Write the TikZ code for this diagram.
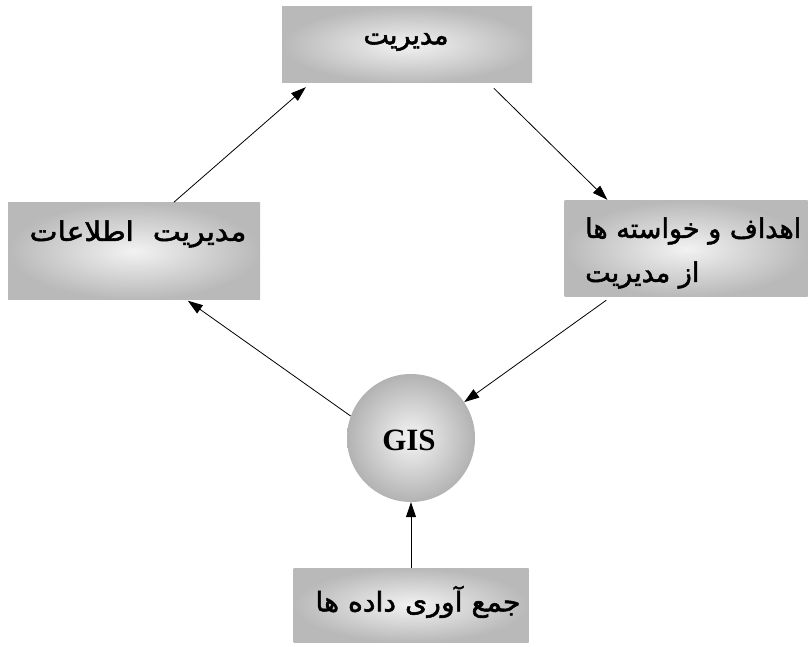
\documentclass[tikz,border=0pt]{standalone}
\usepackage{fontspec}
\usetikzlibrary{arrows.meta,calc}
\TeXXeTstate=1
\newfontfamily\arabicfont[Script=Arabic,FakeBold=2]{DejaVu Sans}
\newfontfamily\gisfont{Liberation Serif}
\tikzset{
  textured/.style={inner color=gray!10, outer color=gray!55},
  boxnode/.style={rectangle, textured, inner sep=0pt},
  fa/.style={font=\arabicfont\fontsize{27}{30}\selectfont, inner sep=0pt},
  link/.style={draw=black, line width=0.8pt, -{Triangle[length=15pt,width=10pt]}},
}
\begin{document}
\begin{tikzpicture}[x=1pt, y=-1pt]
  \useasboundingbox (0,0) rectangle (812,647);
  % boxes
  \node[boxnode, minimum width=250pt, minimum height=76pt] (mgmt) at (407,45) {};
  \node[boxnode, minimum width=252pt, minimum height=97pt] (info) at (134,251) {};
  \node[boxnode, minimum width=243pt, minimum height=96pt] (goals) at (686,249) {};
  \node[boxnode, minimum width=235pt, minimum height=74pt] (data) at (411,605) {};
  \node[circle, inner color=gray!8, outer color=gray!60, minimum size=128pt, inner sep=0pt] (gis) at (411,438) {};
  % labels
  \node[fa] (tmgmt) at (406,42) {\beginR مدیریت\endR};
  \node[fa, xscale=1.1] (tinfo) at (138,234) {\beginR مدیریت\ \ اطلاعات\endR};
  \node[fa, anchor=west] (tgoals1) at (585,231) {\beginR اهداف و خواسته ها\endR};
  \node[fa, anchor=west] (tgoals2) at (585,275) {\beginR از مدیریت\endR};
  \node[fa, xscale=1.05] (tdata) at (418,602) {\beginR جمع آوری داده ها\endR};
  \node[font=\gisfont\bfseries\fontsize{31}{34}\selectfont, inner sep=0pt] (tgis) at (409,440) {GIS};
  % connectors
  \draw[link] ($(info.north west)+(166,0)$) -- ($(mgmt.south west)+(24,4)$);
  \draw[link] ($(mgmt.south west)+(212,5)$) -- ($(goals.north west)+(43,-1)$);
  \draw[link] ($(goals.south west)+(42,3)$) -- (gis.34);
  \draw[link] (gis.160) -- ($(info.south west)+(180,1)$);
  \draw[link] (data.north) -- (gis.south);
\end{tikzpicture}
\end{document}
